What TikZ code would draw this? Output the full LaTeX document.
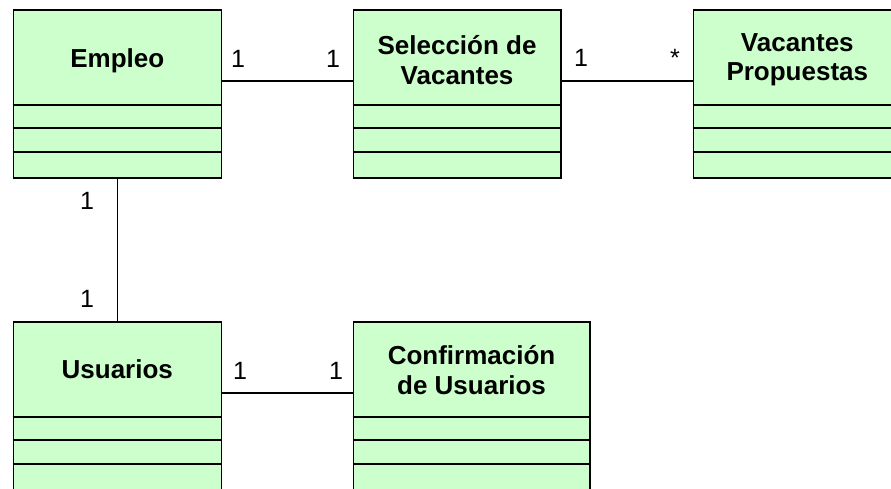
\documentclass[tikz,border=0pt]{standalone}
\usepackage{fontspec}
\setmainfont{Liberation Sans}
\usetikzlibrary{calc}
\definecolor{umlgreen}{HTML}{CCFFCC}
\begin{document}
\begin{tikzpicture}[x=1pt,y=-1pt,
  classbox/.style={draw, line width=1.6pt, fill=umlgreen, inner sep=0pt, anchor=north west, minimum height=168pt},
  classtitle/.style={font=\fontsize{26}{29.5}\selectfont\bfseries, align=center, inner sep=0pt},
  mult/.style={font=\fontsize{25}{29}\selectfont, inner sep=0pt, anchor=base},
  row/.style={line width=1.3pt},
  conn/.style={line width=1.5pt}]
\useasboundingbox (0,0) rectangle (891,489);
\clip (0,0) rectangle (891,489);
\fill[white] (0,0) rectangle (891,489);

% classes
\node[classbox, minimum width=208pt] (empleo) at (12.5,9) {};
\node[classbox, minimum width=207.5pt] (sel) at (352.5,9) {};
\node[classbox, minimum width=208pt] (vac) at (692.5,9) {};
\node[classbox, minimum width=208pt] (usu) at (12.5,321) {};
\node[classbox, minimum width=236.5pt] (conf) at (352.5,321) {};

% compartment lines
\foreach \c in {empleo,sel,vac,usu,conf}{
  \foreach \d in {96,119,143}{
    \draw[row] ($(\c.north west)+(0,\d)$) -- ($(\c.north east)+(0,\d)$);
  }
}

% titles
\node[classtitle, anchor=base] (tEmpleo) at ($(empleo.north)+(0,59)$) {Empleo};
\node[classtitle] (tSel) at ($(sel.north)+(0,51)$) {Selección de\\Vacantes};
\node[classtitle] (tVac) at ($(vac.north)+(0,51)$) {Vacantes\\Propuestas};
\node[classtitle, anchor=base] (tUsu) at ($(usu.north)+(0,57)$) {Usuarios};
\node[classtitle] (tConf) at ($(conf.north)+(0,49)$) {Confirmación\\de Usuarios};

% connectors
\coordinate (eR) at ($(empleo.north east)+(0,72)$);
\coordinate (sL) at ($(sel.north west)+(0,72)$);
\coordinate (sR) at ($(sel.north east)+(0,72)$);
\coordinate (vL) at ($(vac.north west)+(0,72)$);
\coordinate (uR) at ($(usu.north east)+(0,72)$);
\coordinate (cL) at ($(conf.north west)+(0,72)$);
\draw[conn] (eR) -- (sL);
\draw[conn] (sR) -- (vL);
\draw[conn] (empleo.south) -- (usu.north);
\draw[conn] (uR) -- (cL);

% multiplicities
\node[mult] (m1) at (238,68) {1};
\node[mult] (m2) at (333,68) {1};
\node[mult] (m3) at (581,67) {1};
\node[mult] (m4) at (675,67) {*};
\node[mult] (m5) at (87,210) {1};
\node[mult] (m6) at (87,307) {1};
\node[mult] (m7) at (240,379) {1};
\node[mult] (m8) at (336,379) {1};
\end{tikzpicture}
\end{document}
